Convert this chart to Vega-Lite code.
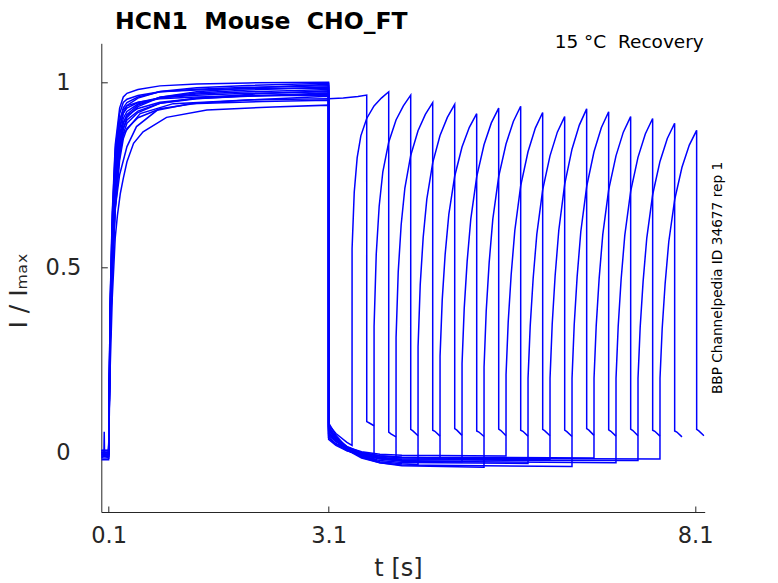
{
  "$schema": "https://vega.github.io/schema/vega-lite/v6.json",
  "width": 603.4,
  "height": 468.7,
  "autosize": {"type": "none"},
  "padding": {"left": 101.3, "top": 43.3, "right": 73.3, "bottom": 71},
  "title": {
    "text": "HCN1 \u00a0Mouse \u00a0CHO_FT",
    "anchor": "start",
    "frame": "group",
    "dx": 13.7,
    "offset": -20,
    "baseline": "alphabetic",
    "fontSize": 23.5,
    "fontWeight": "bold",
    "color": "#000000"
  },
  "data": {
    "values": [
      {"k":0,"t":0,"v":0},{"k":0,"t":0.1,"v":0},{"k":0,"t":0.12,"v":0.343},{"k":0,"t":0.15,"v":0.564},{"k":0,"t":0.19,"v":0.74},{"k":0,"t":0.25,"v":0.858},{"k":0,"t":0.3,"v":0.902},{"k":0,"t":0.35,"v":0.921},{"k":0,"t":0.5,"v":0.941},{"k":0,"t":0.8,"v":0.958},{"k":0,"t":1.3,"v":0.968},{"k":0,"t":2.0,"v":0.974},{"k":0,"t":3.1,"v":0.98},
      {"k":0,"t":3.1005,"v":0.955},{"k":0,"t":3.3,"v":0.957},{"k":0,"t":3.5,"v":0.961},{"k":0,"t":3.62,"v":0.965},{"k":0,"t":3.6205,"v":0.083},{"k":0,"t":3.65,"v":0.08},{"k":0,"t":3.72,"v":0.072},

      {"k":1,"t":0,"v":-0.01},{"k":1,"t":0.1,"v":-0.01},{"k":1,"t":0.12,"v":0.4},{"k":1,"t":0.15,"v":0.65},{"k":1,"t":0.19,"v":0.83},{"k":1,"t":0.25,"v":0.93},{"k":1,"t":0.3,"v":0.96},{"k":1,"t":0.35,"v":0.97},{"k":1,"t":0.5,"v":0.98},{"k":1,"t":0.8,"v":0.99},{"k":1,"t":1.3,"v":0.995},{"k":1,"t":2.0,"v":0.998},{"k":1,"t":3.1,"v":1.0},
      {"k":1,"t":3.1005,"v":0.075},{"k":1,"t":3.2,"v":0.051},{"k":1,"t":3.35,"v":0.027},{"k":1,"t":3.42,"v":0.019},
      {"k":1,"t":3.4205,"v":0.55},{"k":1,"t":3.45,"v":0.703},{"k":1,"t":3.49,"v":0.796},{"k":1,"t":3.54,"v":0.855},{"k":1,"t":3.62,"v":0.902},{"k":1,"t":3.72,"v":0.936},{"k":1,"t":3.82,"v":0.957},{"k":1,"t":3.92,"v":0.974},
      {"k":1,"t":3.9205,"v":0.055},{"k":1,"t":3.95,"v":0.05},{"k":1,"t":4.02,"v":0.042},

      {"k":2,"t":0,"v":0.005},{"k":2,"t":0.1,"v":0.005},{"k":2,"t":0.12,"v":0.349},{"k":2,"t":0.15,"v":0.573},{"k":2,"t":0.19,"v":0.753},{"k":2,"t":0.25,"v":0.872},{"k":2,"t":0.3,"v":0.917},{"k":2,"t":0.35,"v":0.937},{"k":2,"t":0.5,"v":0.957},{"k":2,"t":0.8,"v":0.975},{"k":2,"t":1.3,"v":0.985},{"k":2,"t":2.0,"v":0.991},{"k":2,"t":3.1,"v":0.997},
      {"k":2,"t":3.1005,"v":0.065},{"k":2,"t":3.2,"v":0.038},{"k":2,"t":3.35,"v":0.011},{"k":2,"t":3.55,"v":-0.009},{"k":2,"t":3.72,"v":-0.018},
      {"k":2,"t":3.7205,"v":0.34},{"k":2,"t":3.75,"v":0.535},{"k":2,"t":3.79,"v":0.665},{"k":2,"t":3.84,"v":0.758},{"k":2,"t":3.92,"v":0.838},{"k":2,"t":4.02,"v":0.898},{"k":2,"t":4.12,"v":0.936},{"k":2,"t":4.22,"v":0.965},
      {"k":2,"t":4.2205,"v":0.062},{"k":2,"t":4.25,"v":0.058},{"k":2,"t":4.32,"v":0.045},

      {"k":3,"t":0,"v":-0.015},{"k":3,"t":0.035,"v":-0.01},{"k":3,"t":0.04,"v":0.056},{"k":3,"t":0.045,"v":-0.01},{"k":3,"t":0.1,"v":-0.015},{"k":3,"t":0.12,"v":0.298},{"k":3,"t":0.15,"v":0.497},{"k":3,"t":0.19,"v":0.676},{"k":3,"t":0.25,"v":0.815},{"k":3,"t":0.3,"v":0.875},{"k":3,"t":0.35,"v":0.905},{"k":3,"t":0.5,"v":0.934},{"k":3,"t":0.8,"v":0.959},{"k":3,"t":1.3,"v":0.974},{"k":3,"t":2.0,"v":0.984},{"k":3,"t":3.1,"v":0.994},
      {"k":3,"t":3.1005,"v":0.05},{"k":3,"t":3.2,"v":0.03},{"k":3,"t":3.35,"v":0.01},{"k":3,"t":3.55,"v":-0.004},{"k":3,"t":3.8,"v":-0.013},{"k":3,"t":4.02,"v":-0.017},
      {"k":3,"t":4.0205,"v":0.31},{"k":3,"t":4.05,"v":0.488},{"k":3,"t":4.09,"v":0.615},{"k":3,"t":4.14,"v":0.713},{"k":3,"t":4.22,"v":0.802},{"k":3,"t":4.32,"v":0.869},{"k":3,"t":4.42,"v":0.913},{"k":3,"t":4.52,"v":0.945},
      {"k":3,"t":4.5205,"v":0.06},{"k":3,"t":4.55,"v":0.057},{"k":3,"t":4.62,"v":0.044},

      {"k":4,"t":0,"v":-0.005},{"k":4,"t":0.1,"v":-0.005},{"k":4,"t":0.12,"v":0.371},{"k":4,"t":0.15,"v":0.606},{"k":4,"t":0.19,"v":0.785},{"k":4,"t":0.25,"v":0.893},{"k":4,"t":0.3,"v":0.931},{"k":4,"t":0.35,"v":0.945},{"k":4,"t":0.5,"v":0.96},{"k":4,"t":0.8,"v":0.974},{"k":4,"t":1.3,"v":0.981},{"k":4,"t":2.0,"v":0.986},{"k":4,"t":3.1,"v":0.99},
      {"k":4,"t":3.1005,"v":0.07},{"k":4,"t":3.2,"v":0.04},{"k":4,"t":3.35,"v":0.011},{"k":4,"t":3.55,"v":-0.012},{"k":4,"t":3.8,"v":-0.025},{"k":4,"t":4.1,"v":-0.031},{"k":4,"t":4.32,"v":-0.033},
      {"k":4,"t":4.3205,"v":0.285},{"k":4,"t":4.35,"v":0.453},{"k":4,"t":4.39,"v":0.58},{"k":4,"t":4.44,"v":0.684},{"k":4,"t":4.52,"v":0.782},{"k":4,"t":4.62,"v":0.856},{"k":4,"t":4.72,"v":0.905},{"k":4,"t":4.82,"v":0.94},
      {"k":4,"t":4.8205,"v":0.064},{"k":4,"t":4.85,"v":0.06},{"k":4,"t":4.92,"v":0.046},

      {"k":5,"t":0,"v":0},{"k":5,"t":0.1,"v":0},{"k":5,"t":0.12,"v":0.22},{"k":5,"t":0.15,"v":0.42},{"k":5,"t":0.19,"v":0.58},{"k":5,"t":0.22,"v":0.64},{"k":5,"t":0.26,"v":0.7},{"k":5,"t":0.3,"v":0.74},{"k":5,"t":0.35,"v":0.785},{"k":5,"t":0.44,"v":0.835},{"k":5,"t":0.57,"v":0.866},{"k":5,"t":0.89,"v":0.905},{"k":5,"t":1.44,"v":0.925},{"k":5,"t":2.34,"v":0.933},{"k":5,"t":3.1,"v":0.938},
      {"k":5,"t":3.1005,"v":0.04},{"k":5,"t":3.2,"v":0.024},{"k":5,"t":3.35,"v":0.009},{"k":5,"t":3.55,"v":-0.003},{"k":5,"t":3.8,"v":-0.01},{"k":5,"t":4.1,"v":-0.013},{"k":5,"t":4.62,"v":-0.015},
      {"k":5,"t":4.6205,"v":0.26},{"k":5,"t":4.65,"v":0.412},{"k":5,"t":4.69,"v":0.535},{"k":5,"t":4.74,"v":0.643},{"k":5,"t":4.82,"v":0.746},{"k":5,"t":4.92,"v":0.825},{"k":5,"t":5.02,"v":0.878},{"k":5,"t":5.12,"v":0.915},
      {"k":5,"t":5.1205,"v":0.058},{"k":5,"t":5.15,"v":0.055},{"k":5,"t":5.22,"v":0.043},

      {"k":6,"t":0,"v":-0.01},{"k":6,"t":0.1,"v":-0.01},{"k":6,"t":0.12,"v":0.321},{"k":6,"t":0.15,"v":0.531},{"k":6,"t":0.19,"v":0.708},{"k":6,"t":0.25,"v":0.836},{"k":6,"t":0.3,"v":0.888},{"k":6,"t":0.35,"v":0.913},{"k":6,"t":0.5,"v":0.938},{"k":6,"t":0.8,"v":0.959},{"k":6,"t":1.3,"v":0.971},{"k":6,"t":2.0,"v":0.979},{"k":6,"t":3.1,"v":0.987},
      {"k":6,"t":3.1005,"v":0.06},{"k":6,"t":3.2,"v":0.036},{"k":6,"t":3.35,"v":0.012},{"k":6,"t":3.55,"v":-0.006},{"k":6,"t":3.8,"v":-0.017},{"k":6,"t":4.1,"v":-0.022},{"k":6,"t":4.92,"v":-0.025},
      {"k":6,"t":4.9205,"v":0.24},{"k":6,"t":4.95,"v":0.389},{"k":6,"t":4.99,"v":0.516},{"k":6,"t":5.04,"v":0.631},{"k":6,"t":5.12,"v":0.744},{"k":6,"t":5.22,"v":0.831},{"k":6,"t":5.32,"v":0.89},{"k":6,"t":5.42,"v":0.93},
      {"k":6,"t":5.4205,"v":0.063},{"k":6,"t":5.45,"v":0.059},{"k":6,"t":5.52,"v":0.045},

      {"k":7,"t":0,"v":0.005},{"k":7,"t":0.1,"v":0.005},{"k":7,"t":0.12,"v":0.394},{"k":7,"t":0.15,"v":0.64},{"k":7,"t":0.19,"v":0.817},{"k":7,"t":0.25,"v":0.915},{"k":7,"t":0.3,"v":0.945},{"k":7,"t":0.35,"v":0.954},{"k":7,"t":0.5,"v":0.964},{"k":7,"t":0.8,"v":0.974},{"k":7,"t":1.3,"v":0.979},{"k":7,"t":2.0,"v":0.982},{"k":7,"t":3.1,"v":0.984},
      {"k":7,"t":3.1005,"v":0.08},{"k":7,"t":3.2,"v":0.046},{"k":7,"t":3.35,"v":0.012},{"k":7,"t":3.55,"v":-0.013},{"k":7,"t":3.8,"v":-0.028},{"k":7,"t":4.1,"v":-0.036},{"k":7,"t":5.22,"v":-0.04},
      {"k":7,"t":5.2205,"v":0.23},{"k":7,"t":5.25,"v":0.382},{"k":7,"t":5.29,"v":0.512},{"k":7,"t":5.34,"v":0.63},{"k":7,"t":5.42,"v":0.745},{"k":7,"t":5.52,"v":0.833},{"k":7,"t":5.62,"v":0.894},{"k":7,"t":5.72,"v":0.935},
      {"k":7,"t":5.7205,"v":0.06},{"k":7,"t":5.75,"v":0.057},{"k":7,"t":5.82,"v":0.044},

      {"k":8,"t":0,"v":-0.02},{"k":8,"t":0.1,"v":-0.02},{"k":8,"t":0.12,"v":0.293},{"k":8,"t":0.15,"v":0.489},{"k":8,"t":0.19,"v":0.664},{"k":8,"t":0.25,"v":0.801},{"k":8,"t":0.3,"v":0.86},{"k":8,"t":0.35,"v":0.889},{"k":8,"t":0.5,"v":0.918},{"k":8,"t":0.8,"v":0.943},{"k":8,"t":1.3,"v":0.957},{"k":8,"t":2.0,"v":0.967},{"k":8,"t":3.1,"v":0.977},
      {"k":8,"t":3.1005,"v":0.045},{"k":8,"t":3.2,"v":0.029},{"k":8,"t":3.35,"v":0.014},{"k":8,"t":3.55,"v":0.002},{"k":8,"t":3.8,"v":-0.005},{"k":8,"t":4.1,"v":-0.008},{"k":8,"t":5.52,"v":-0.01},
      {"k":8,"t":5.5205,"v":0.21},{"k":8,"t":5.55,"v":0.352},{"k":8,"t":5.59,"v":0.479},{"k":8,"t":5.64,"v":0.599},{"k":8,"t":5.72,"v":0.72},{"k":8,"t":5.82,"v":0.812},{"k":8,"t":5.92,"v":0.876},{"k":8,"t":6.02,"v":0.918},
      {"k":8,"t":6.0205,"v":0.062},{"k":8,"t":6.05,"v":0.058},{"k":8,"t":6.12,"v":0.045},

      {"k":9,"t":0,"v":-0.005},{"k":9,"t":0.1,"v":-0.005},{"k":9,"t":0.12,"v":0.28},{"k":9,"t":0.15,"v":0.5},{"k":9,"t":0.19,"v":0.66},{"k":9,"t":0.25,"v":0.75},{"k":9,"t":0.35,"v":0.826},{"k":9,"t":0.48,"v":0.88},{"k":9,"t":0.76,"v":0.924},{"k":9,"t":1.21,"v":0.942},{"k":9,"t":2.2,"v":0.948},{"k":9,"t":3.1,"v":0.951},
      {"k":9,"t":3.1005,"v":0.055},{"k":9,"t":3.2,"v":0.031},{"k":9,"t":3.35,"v":0.007},{"k":9,"t":3.55,"v":-0.011},{"k":9,"t":3.8,"v":-0.022},{"k":9,"t":4.1,"v":-0.027},{"k":9,"t":5.82,"v":-0.03},
      {"k":9,"t":5.8205,"v":0.2},{"k":9,"t":5.85,"v":0.341},{"k":9,"t":5.89,"v":0.469},{"k":9,"t":5.94,"v":0.589},{"k":9,"t":6.02,"v":0.709},{"k":9,"t":6.12,"v":0.801},{"k":9,"t":6.22,"v":0.865},{"k":9,"t":6.32,"v":0.907},
      {"k":9,"t":6.3205,"v":0.06},{"k":9,"t":6.35,"v":0.056},{"k":9,"t":6.42,"v":0.043},

      {"k":10,"t":0,"v":0},{"k":10,"t":0.1,"v":0},{"k":10,"t":0.12,"v":0.365},{"k":10,"t":0.15,"v":0.597},{"k":10,"t":0.19,"v":0.772},{"k":10,"t":0.25,"v":0.879},{"k":10,"t":0.3,"v":0.916},{"k":10,"t":0.35,"v":0.93},{"k":10,"t":0.5,"v":0.945},{"k":10,"t":0.8,"v":0.958},{"k":10,"t":1.3,"v":0.965},{"k":10,"t":2.0,"v":0.97},{"k":10,"t":3.1,"v":0.974},
      {"k":10,"t":3.1005,"v":0.035},{"k":10,"t":3.2,"v":0.019},{"k":10,"t":3.35,"v":0.004},{"k":10,"t":3.55,"v":-0.008},{"k":10,"t":3.8,"v":-0.015},{"k":10,"t":4.1,"v":-0.018},{"k":10,"t":6.12,"v":-0.02},
      {"k":10,"t":6.1205,"v":0.2},{"k":10,"t":6.15,"v":0.346},{"k":10,"t":6.19,"v":0.477},{"k":10,"t":6.24,"v":0.6},{"k":10,"t":6.32,"v":0.724},{"k":10,"t":6.42,"v":0.819},{"k":10,"t":6.52,"v":0.884},{"k":10,"t":6.62,"v":0.928},
      {"k":10,"t":6.6205,"v":0.064},{"k":10,"t":6.65,"v":0.06},{"k":10,"t":6.72,"v":0.046},

      {"k":11,"t":0,"v":-0.01},{"k":11,"t":0.1,"v":-0.01},{"k":11,"t":0.12,"v":0.316},{"k":11,"t":0.15,"v":0.522},{"k":11,"t":0.19,"v":0.697},{"k":11,"t":0.25,"v":0.823},{"k":11,"t":0.3,"v":0.874},{"k":11,"t":0.35,"v":0.898},{"k":11,"t":0.5,"v":0.922},{"k":11,"t":0.8,"v":0.943},{"k":11,"t":1.3,"v":0.955},{"k":11,"t":2.0,"v":0.963},{"k":11,"t":3.1,"v":0.971},
      {"k":11,"t":3.1005,"v":0.065},{"k":11,"t":3.2,"v":0.036},{"k":11,"t":3.35,"v":0.007},{"k":11,"t":3.55,"v":-0.015},{"k":11,"t":3.8,"v":-0.028},{"k":11,"t":4.1,"v":-0.034},{"k":11,"t":6.42,"v":-0.038},
      {"k":11,"t":6.4205,"v":0.2},{"k":11,"t":6.45,"v":0.344},{"k":11,"t":6.49,"v":0.474},{"k":11,"t":6.54,"v":0.596},{"k":11,"t":6.62,"v":0.718},{"k":11,"t":6.72,"v":0.812},{"k":11,"t":6.82,"v":0.877},{"k":11,"t":6.92,"v":0.92},
      {"k":11,"t":6.9205,"v":0.061},{"k":11,"t":6.95,"v":0.057},{"k":11,"t":7.02,"v":0.044},

      {"k":12,"t":0,"v":0.005},{"k":12,"t":0.1,"v":0.005},{"k":12,"t":0.12,"v":0.3},{"k":12,"t":0.15,"v":0.55},{"k":12,"t":0.19,"v":0.72},{"k":12,"t":0.25,"v":0.81},{"k":12,"t":0.3,"v":0.86},{"k":12,"t":0.53,"v":0.915},{"k":12,"t":0.98,"v":0.942},{"k":12,"t":2.0,"v":0.952},{"k":12,"t":3.1,"v":0.955},
      {"k":12,"t":3.1005,"v":0.05},{"k":12,"t":3.2,"v":0.032},{"k":12,"t":3.35,"v":0.013},{"k":12,"t":3.55,"v":0.0},{"k":12,"t":3.8,"v":-0.009},{"k":12,"t":4.1,"v":-0.013},{"k":12,"t":6.72,"v":-0.015},
      {"k":12,"t":6.7205,"v":0.2},{"k":12,"t":6.75,"v":0.341},{"k":12,"t":6.79,"v":0.469},{"k":12,"t":6.84,"v":0.589},{"k":12,"t":6.92,"v":0.709},{"k":12,"t":7.02,"v":0.801},{"k":12,"t":7.12,"v":0.865},{"k":12,"t":7.22,"v":0.907},
      {"k":12,"t":7.2205,"v":0.063},{"k":12,"t":7.25,"v":0.059},{"k":12,"t":7.32,"v":0.045},

      {"k":13,"t":0,"v":-0.015},{"k":13,"t":0.1,"v":-0.015},{"k":13,"t":0.12,"v":0.339},{"k":13,"t":0.15,"v":0.557},{"k":13,"t":0.19,"v":0.731},{"k":13,"t":0.25,"v":0.847},{"k":13,"t":0.3,"v":0.891},{"k":13,"t":0.35,"v":0.91},{"k":13,"t":0.5,"v":0.929},{"k":13,"t":0.8,"v":0.946},{"k":13,"t":1.3,"v":0.956},{"k":13,"t":2.0,"v":0.962},{"k":13,"t":3.1,"v":0.968},
      {"k":13,"t":3.1005,"v":0.07},{"k":13,"t":3.2,"v":0.042},{"k":13,"t":3.35,"v":0.015},{"k":13,"t":3.55,"v":-0.006},{"k":13,"t":3.8,"v":-0.018},{"k":13,"t":4.1,"v":-0.024},{"k":13,"t":7.02,"v":-0.028},
      {"k":13,"t":7.0205,"v":0.2},{"k":13,"t":7.05,"v":0.34},{"k":13,"t":7.09,"v":0.467},{"k":13,"t":7.14,"v":0.586},{"k":13,"t":7.22,"v":0.705},{"k":13,"t":7.32,"v":0.797},{"k":13,"t":7.42,"v":0.86},{"k":13,"t":7.52,"v":0.902},
      {"k":13,"t":7.5205,"v":0.06},{"k":13,"t":7.55,"v":0.057},{"k":13,"t":7.62,"v":0.044},

      {"k":14,"t":0,"v":-0.005},{"k":14,"t":0.1,"v":-0.005},{"k":14,"t":0.12,"v":0.386},{"k":14,"t":0.15,"v":0.627},{"k":14,"t":0.19,"v":0.801},{"k":14,"t":0.25,"v":0.897},{"k":14,"t":0.3,"v":0.926},{"k":14,"t":0.35,"v":0.936},{"k":14,"t":0.5,"v":0.946},{"k":14,"t":0.8,"v":0.955},{"k":14,"t":1.3,"v":0.96},{"k":14,"t":2.0,"v":0.963},{"k":14,"t":3.1,"v":0.965},
      {"k":14,"t":3.1005,"v":0.04},{"k":14,"t":3.2,"v":0.022},{"k":14,"t":3.35,"v":0.005},{"k":14,"t":3.55,"v":-0.008},{"k":14,"t":3.8,"v":-0.016},{"k":14,"t":4.1,"v":-0.02},{"k":14,"t":7.32,"v":-0.022},
      {"k":14,"t":7.3205,"v":0.2},{"k":14,"t":7.35,"v":0.338},{"k":14,"t":7.39,"v":0.462},{"k":14,"t":7.44,"v":0.579},{"k":14,"t":7.52,"v":0.696},{"k":14,"t":7.62,"v":0.786},{"k":14,"t":7.72,"v":0.848},{"k":14,"t":7.82,"v":0.889},
      {"k":14,"t":7.8205,"v":0.058},{"k":14,"t":7.85,"v":0.055},{"k":14,"t":7.92,"v":0.042},

      {"k":15,"t":0,"v":0},{"k":15,"t":0.1,"v":0},{"k":15,"t":0.12,"v":0.289},{"k":15,"t":0.15,"v":0.481},{"k":15,"t":0.19,"v":0.654},{"k":15,"t":0.25,"v":0.789},{"k":15,"t":0.3,"v":0.847},{"k":15,"t":0.35,"v":0.875},{"k":15,"t":0.5,"v":0.904},{"k":15,"t":0.8,"v":0.928},{"k":15,"t":1.3,"v":0.943},{"k":15,"t":2.0,"v":0.952},{"k":15,"t":3.1,"v":0.962},
      {"k":15,"t":3.1005,"v":0.06},{"k":15,"t":3.2,"v":0.038},{"k":15,"t":3.35,"v":0.016},{"k":15,"t":3.55,"v":-0.001},{"k":15,"t":3.8,"v":-0.01},{"k":15,"t":4.1,"v":-0.015},{"k":15,"t":7.62,"v":-0.018},
      {"k":15,"t":7.6205,"v":0.2},{"k":15,"t":7.65,"v":0.334},{"k":15,"t":7.69,"v":0.455},{"k":15,"t":7.74,"v":0.569},{"k":15,"t":7.82,"v":0.682},{"k":15,"t":7.92,"v":0.77},{"k":15,"t":8.02,"v":0.83},{"k":15,"t":8.12,"v":0.87},
      {"k":15,"t":8.1205,"v":0.062},{"k":15,"t":8.15,"v":0.058},{"k":15,"t":8.22,"v":0.045}
    ]
  },
  "layer": [
    {
      "transform": [{"filter": "datum.k < 8"}],
      "mark": {"type": "line", "color": "#0000ff", "strokeWidth": 1.5, "clip": true},
      "encoding": {
        "x": {
          "field": "t",
          "type": "quantitative",
          "scale": {"domain": [0, 8.23], "nice": false, "zero": false},
          "axis": {
            "orient": "bottom",
            "values": [0.1, 3.1, 8.1],
            "format": ".1f",
            "title": "t [s]",
            "grid": false,
            "tickSize": -6,
            "tickColor": "#262626",
            "domainColor": "#262626",
            "labelFontSize": 22.5,
            "labelColor": "#262626",
            "labelBaseline": "alphabetic",
            "labelPadding": 36.7,
            "labelFlush": false,
            "titleFontSize": 24,
            "titleFontWeight": "normal",
            "titleColor": "#262626",
            "titleX": 296.7,
            "titleY": 63,
            "titleAlign": "center",
            "titleBaseline": "alphabetic"
          }
        },
        "y": {
          "field": "v",
          "type": "quantitative",
          "scale": {"domain": [-0.161, 1.105], "nice": false, "zero": false},
          "axis": {
            "orient": "left",
            "values": [0, 0.5, 1],
            "format": "~g",
            "title": "I / I\u2098\u2090\u2093",
            "grid": false,
            "tickSize": -6,
            "tickColor": "#262626",
            "domainColor": "#262626",
            "labelFontSize": 22.5,
            "labelColor": "#262626",
            "labelAlign": "center",
            "labelBaseline": "middle",
            "labelPadding": 44.3,
            "titleFontSize": 25,
            "titleFontWeight": "normal",
            "titleColor": "#262626",
            "titleAngle": 270,
            "titleAlign": "left",
            "titleBaseline": "alphabetic",
            "titleX": -75.3,
            "titleY": 284.7
          }
        },
        "detail": {"field": "k", "type": "nominal"}
      }
    },
    {
      "transform": [{"filter": "datum.k >= 8"}],
      "mark": {"type": "line", "color": "#0000ff", "strokeWidth": 1.5, "clip": true},
      "encoding": {
        "x": {
          "field": "t",
          "type": "quantitative",
          "scale": {"domain": [0, 8.23], "nice": false, "zero": false},
          "axis": {
            "orient": "top",
            "title": "15 °C \u00a0Recovery",
            "labels": false,
            "ticks": false,
            "domain": false,
            "grid": false,
            "titleFontSize": 18.5,
            "titleFontWeight": "normal",
            "titleColor": "#000000",
            "titleAngle": 0,
            "titleAlign": "right",
            "titleBaseline": "alphabetic",
            "titleX": 602,
            "titleY": 4
          }
        },
        "y": {
          "field": "v",
          "type": "quantitative",
          "scale": {"domain": [-0.161, 1.105], "nice": false, "zero": false},
          "axis": {
            "orient": "right",
            "title": "BBP Channelpedia ID 34677 rep 1",
            "labels": false,
            "ticks": false,
            "domain": false,
            "grid": false,
            "titleFontSize": 13.7,
            "titleFontWeight": "normal",
            "titleColor": "#000000",
            "titleAngle": 270,
            "titleAlign": "center",
            "titleBaseline": "alphabetic",
            "titleX": 16.3,
            "titleY": 234.2
          }
        },
        "detail": {"field": "k", "type": "nominal"}
      }
    }
  ],
  "resolve": {"axis": {"x": "independent", "y": "independent"}},
  "config": {
    "view": {"stroke": null},
    "font": "DejaVu Sans"
  }
}
